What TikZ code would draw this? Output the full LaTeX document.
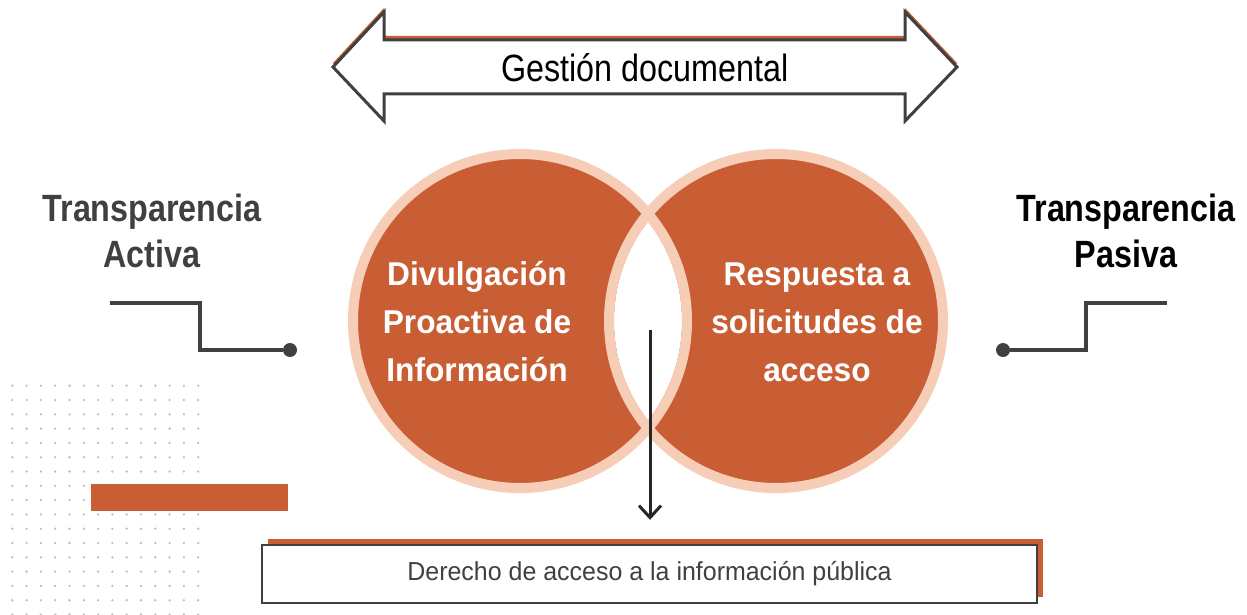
\documentclass[tikz,border=0pt]{standalone}
\usepackage{fontspec}
\setmainfont{Liberation Sans}
\newfontfamily\narrowFont[FakeStretch=0.85]{Liberation Sans}
\newfontfamily\vennFont[FakeStretch=0.96]{Liberation Sans}
\usetikzlibrary{arrows.meta, shadows, calc, positioning}
\definecolor{vennOrange}{HTML}{C95E34}
\definecolor{vennPeach}{HTML}{F6CDB7}
\definecolor{darkGray}{HTML}{404040}
\definecolor{dotGray}{HTML}{BDBDBD}
\tikzset{
    vennCircle/.style={circle, fill=vennOrange, inner sep=0pt, minimum size=167pt},
    vennRing/.style={draw=vennPeach, line width=5pt},
    vennText/.style={align=center, text=white, inner sep=0pt, font=\vennFont\bfseries\fontsize{16.5}{24}\selectfont},
    sideLabel/.style={align=center, inner sep=0pt, font=\narrowFont\bfseries\fontsize{19}{23}\selectfont},
    gestionText/.style={inner sep=0pt, font=\narrowFont\fontsize{19}{23}\selectfont},
    arrowBody/.style={fill=white, draw=darkGray, line width=1.5pt},
    arrowShadow/.style={fill=vennOrange},
    docBox/.style={rectangle, draw=darkGray, fill=white, line width=1.2pt, minimum width=387.5pt, minimum height=29pt, inner sep=0pt, text=darkGray, font=\vennFont\fontsize{13}{15}\selectfont, drop shadow={shadow xshift=3pt, shadow yshift=3pt, fill=vennOrange, opacity=1}},
    connLine/.style={draw=darkGray, line width=2pt},
    connDot/.style={circle, fill=darkGray, inner sep=0pt, minimum size=7pt},
    downArrow/.style={-{Straight Barb[length=6pt, width=11pt]}, line width=1.5pt, draw=black!85},
}
\newcommand{\drawElbow}[3]{
    \draw[connLine] (#1) -- (#2 |- #1) |- (#3);
}

\begin{document}
\begin{tikzpicture}[x=0.5pt, y=-0.5pt]
        \useasboundingbox (0,0) rectangle (1247,615);

        % dotted background
        \foreach \i in {0,...,13}
            \foreach \j in {0,...,16}
                \fill[dotGray] (12.3+14.3*\i, 385.7+14.3*\j) circle[radius=0.65pt];
        \fill[vennOrange] (91,484) rectangle (288,511);

        % gestion documental
        \foreach \dy/\sty in {2pt/arrowShadow, 0pt/arrowBody}
            \path[\sty, yshift=\dy] (333,67) -- (384,12) -- (384,40) -- (905,40) -- (905,12) -- (957,67)
                -- (905,121) -- (905,94) -- (384,94) -- (384,121) -- cycle;
        \node[gestionText] (gestion) at (645,68) {Gestión documental};

        % venn
        \node[vennCircle] (divul) at (520,321) {};
        \node[vennCircle] (resp) at (776,321) {};
        \begin{scope}
            \clip (divul.center) circle[radius=81pt];
            \fill[white] (resp.center) circle[radius=81pt];
        \end{scope}
        \foreach \c in {divul, resp}
            \draw[vennRing] (\c.center) circle[radius=83.5pt];
        \node[vennText] (divulText) at (477,322) {Divulgación\\Proactiva de\\Información};
        \node[vennText] (respText) at (817,322) {Respuesta a\\solicitudes de\\acceso};

        % side labels
        \node[sideLabel, text=darkGray] (tActiva) at (152,231) {Transparencia\\Activa};
        \node[sideLabel, text=black] (tPasiva) at (1126,231) {Transparencia\\Pasiva};

        \coordinate (actStart) at (110,303);
        \coordinate (actBend) at (200,303);
        \node[connDot] (actDot) at (290,350) {};
        \drawElbow{actStart}{actBend}{actDot}
        \coordinate (pasStart) at (1167,303);
        \coordinate (pasBend) at (1086,303);
        \node[connDot] (pasDot) at (1003,350) {};
        \drawElbow{pasStart}{pasBend}{pasDot}

        % derecho de acceso
        \node[docBox] (docBox) at (649.5,574) {Derecho de acceso a la información pública};
        \coordinate (lensTop) at (650,330);
        \draw[downArrow, shorten >=12pt] (lensTop) -- (lensTop |- docBox.north);

    \end{tikzpicture}
\end{document}
